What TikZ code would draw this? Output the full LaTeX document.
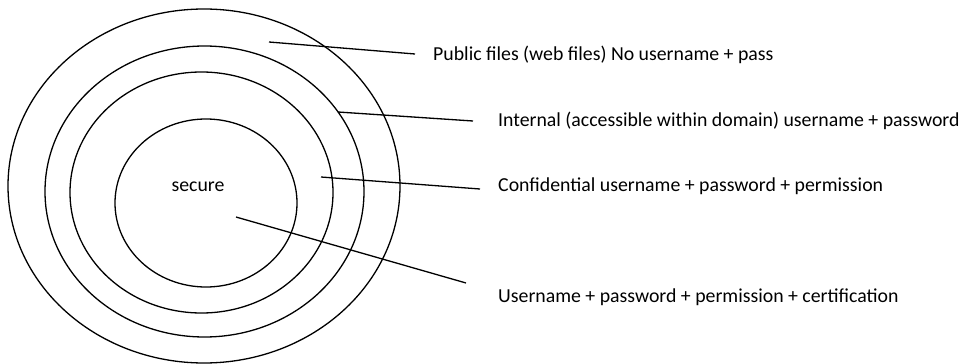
\documentclass[tikz,border=0pt]{standalone}
\usepackage{fontspec}
\setmainfont{Carlito}
\begin{document}
\begin{tikzpicture}[x=1pt,y=-1pt,
  ring/.style={draw=black,line width=1.3pt},
  leader/.style={draw=black,line width=1.3pt},
  lbl/.style={anchor=west,inner sep=0pt,font=\fontsize{19.8}{23}\selectfont}]
\useasboundingbox (0,0) rectangle (962,364);
% concentric security rings
\draw[ring] (204,186) ellipse [x radius=196pt, y radius=177pt];
\draw[ring] (204.5,191.5) ellipse [x radius=159.5pt, y radius=145.5pt];
\draw[ring] (201.5,192.5) ellipse [x radius=131.5pt, y radius=120.5pt];
\draw[ring] (206,203) ellipse [x radius=91pt, y radius=84pt];
\node[lbl,anchor=center] (core) at (198,187) {secure};
% labels
\node[lbl] (public) at (433,55) {Public files (web files) No username + pass};
\node[lbl] (internal) at (498,121) {Internal (accessible within domain) username + password};
\node[lbl] (conf) at (498,186) {Confidential username + password + permission};
\node[lbl] (cert) at (498,297) {Username + password + permission + certification};
% leader line end points
\coordinate (p1) at (269,42);  \coordinate (q1) at (415,54);
\coordinate (p2) at (338,112); \coordinate (q2) at (473,121);
\coordinate (p3) at (321,177); \coordinate (q3) at (480,189);
\coordinate (p4) at (236,217); \coordinate (q4) at (466,283);
\draw[leader] (p1) -- (q1);
\draw[leader] (p2) -- (q2);
\draw[leader] (p3) -- (q3);
\draw[leader] (p4) -- (q4);
\end{tikzpicture}
\end{document}
